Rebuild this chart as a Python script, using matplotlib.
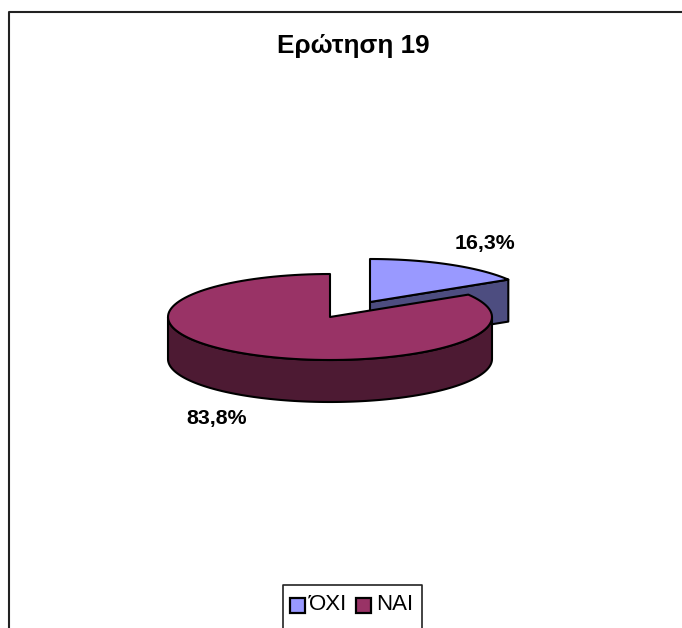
import numpy as np
import matplotlib
matplotlib.use('Agg')
import matplotlib.pyplot as plt
from matplotlib.patches import Rectangle

plt.rcParams['font.family'] = ['Liberation Sans', 'DejaVu Sans']

title = 'Ερώτηση 19'
labels = ['ΌΧΙ', 'ΝΑΙ']
values = [16.3, 83.8]
value_labels = ['16,3%', '83,8%']
top_colors = ['#9999FF', '#993366']
side_colors = ['#4D4D80', '#4D1A33']

W, H = 682, 628
rx, ry, depth = 162, 43, 42
center_main = (330, 317)
center_out = (370, 302)

fig = plt.figure(figsize=(W / 100, H / 100), dpi=100)
ax = fig.add_axes([0, 0, 1, 1])
ax.set_xlim(0, W)
ax.set_ylim(H, 0)
ax.axis('off')


def rim(center, t0, t1, n=120):
    # angles run clockwise from twelve o'clock, squashed for the tilted view
    t = np.radians(np.linspace(t0, t1, n))
    return center[0] + rx * np.sin(t), center[1] - ry * np.cos(t)


split = 360 * values[0] / sum(values)
line = dict(edgecolor='black', linewidth=1.5, joinstyle='round')

# small slice, pulled out to the right
x, y = rim(center_out, 0, split)
wall_x = [center_out[0], x[-1], x[-1], center_out[0]]
wall_y = [center_out[1], y[-1], y[-1] + depth, center_out[1] + depth]
ax.fill(wall_x, wall_y, facecolor=side_colors[0], **line)
ax.fill(np.r_[center_out[0], x], np.r_[center_out[1], y], facecolor=top_colors[0], **line)

# big slice: front wall first, then the top face over it
x, y = rim(center_main, 90, 270)
ax.fill(np.r_[x, x[::-1]], np.r_[y, y[::-1] + depth], facecolor=side_colors[1], **line)
x, y = rim(center_main, split, 360)
ax.fill(np.r_[center_main[0], x], np.r_[center_main[1], y], facecolor=top_colors[1], **line)

ax.text(353.5, 53, title, fontsize=18.8, fontweight='bold', ha='center', va='baseline')
ax.text(484.5, 249, value_labels[0], fontsize=15.4, fontweight='bold', ha='center', va='baseline')
ax.text(217, 424, value_labels[1], fontsize=15.4, fontweight='bold', ha='center', va='baseline')

# chart border, cut off by the edge of the figure
ax.plot([8.5, 8.5, W], [H, 12, 12], color='#222222', lw=1.5, clip_on=False)

# legend box, also cut off at the bottom
ax.plot([282.5, 282.5, 421.5, 421.5], [H, 584.5, 584.5, H], color='#222222', lw=1.2)
for sx, tx, lab, col in zip([290, 355.5], [309, 376], labels, top_colors):
    ax.add_patch(Rectangle((sx, 598), 15, 15, facecolor=col, edgecolor='black', lw=1.6))
    ax.text(tx, 610, lab, fontsize=16, ha='left', va='baseline')

fig.savefig('out.png', dpi=100)
